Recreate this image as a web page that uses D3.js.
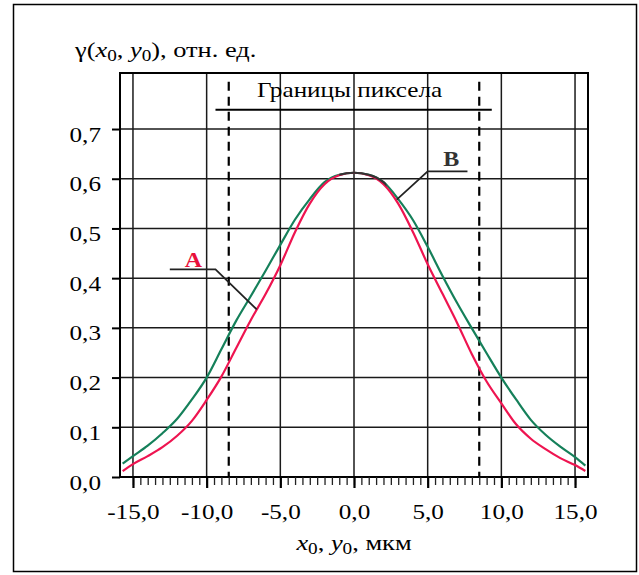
<!DOCTYPE html>
<html>
  <head>
    <meta charset="utf-8">
    <title>gamma profile</title>
    <style>
      body {
        margin: 0;
        background-color: white;
      }
      text {
        font-family: "Liberation Serif", "Times New Roman", serif;
        fill: black;
      }
    </style>
  </head>
  <body>
    <div id="chart"></div>

    <script src="https://d3js.org/d3.v7.min.js"></script>
    <script>
    // data
    var xs = [-15.7, -15, -14, -13, -12, -11, -10, -9, -8, -7, -6, -5, -4, -3, -2, -1, 0,
              1, 2, 3, 4, 5, 6, 7, 8, 9, 10, 11, 12, 13, 14, 15, 15.7];
    var seriesB = [0.027, 0.042, 0.063, 0.088, 0.117, 0.156, 0.200, 0.257, 0.314, 0.364, 0.415, 0.467, 0.518, 0.559, 0.593, 0.608, 0.612,
                   0.608, 0.593, 0.559, 0.517, 0.463, 0.405, 0.350, 0.299, 0.249, 0.200, 0.156, 0.115, 0.085, 0.061, 0.040, 0.023];
    var seriesA = [0.012, 0.026, 0.042, 0.060, 0.083, 0.113, 0.155, 0.202, 0.259, 0.316, 0.368, 0.426, 0.493, 0.550, 0.589, 0.607, 0.612,
                   0.607, 0.589, 0.550, 0.493, 0.428, 0.369, 0.310, 0.247, 0.192, 0.148, 0.106, 0.077, 0.056, 0.038, 0.024, 0.012];
    var commonRange = [-1.0, 2.2];      // where both curves coincide (drawn dark)
    var xTicks = [-15, -10, -5, 0, 5, 10, 15];
    var yTicks = [0, 0.1, 0.2, 0.3, 0.4, 0.5, 0.6, 0.7];
    var pixelBounds = [-8.5, 8.5];
    var pixelBar = {x0: -9.4, x1: 9.35, y: 0.739, top: 0.795, label: "Границы пиксела"};
    var labelA = {text: "A", pts: [[-12.5, 0.4175], [-9.4, 0.4175], [-6.6, 0.337]], lx: -10.9, ly: 0.423};
    var labelB = {text: "B", pts: [[7.7, 0.615], [5.0, 0.615], [2.9, 0.558]], lx: 6.6, ly: 0.626};

    var width = 639;
    var height = 575;
    var k = 1.2; // glyphs in the picture are a bit wider than Times

    var svg = d3.select("#chart").append("svg")
      .attr("width", width)
      .attr("height", height);

    svg.append("rect")
      .attr("x", 13.5).attr("y", 4.5)
      .attr("width", 623).attr("height", 567)
      .attr("fill", "white")
      .attr("stroke", "black")
      .attr("stroke-width", 1.5);

    var x = d3.scaleLinear().domain([-15.88, 15.88]).range([120, 588]);
    var y = d3.scaleLinear().domain([0, 0.8127]).range([477, 73]);

    function fmt(d) {
      return d.toFixed(1).replace(".", ",");
    }

    // grid
    svg.append("g").selectAll("line")
      .data(xTicks)
      .enter().append("line")
      .attr("x1", function(d) { return x(d); })
      .attr("x2", function(d) { return x(d); })
      .attr("y1", y(0)).attr("y2", y.range()[1])
      .attr("stroke", "#1a1a1a").attr("stroke-width", 1.5);

    svg.append("g").selectAll("line")
      .data(yTicks.slice(1))
      .enter().append("line")
      .attr("x1", x.range()[0]).attr("x2", x.range()[1])
      .attr("y1", function(d) { return y(d); })
      .attr("y2", function(d) { return y(d); })
      .attr("stroke", "#1a1a1a").attr("stroke-width", 1.5);

    // plot frame
    svg.append("rect")
      .attr("x", x.range()[0]).attr("y", y.range()[1])
      .attr("width", x.range()[1] - x.range()[0])
      .attr("height", y(0) - y.range()[1])
      .attr("fill", "none")
      .attr("stroke", "black")
      .attr("stroke-width", 2);

    // x axis: minor ticks every 0.5, labels at major
    var xAxisMinor = d3.axisBottom(x)
      .tickValues(d3.range(-15, 15.01, 0.5))
      .tickSize(8)
      .tickFormat("");
    var gxm = svg.append("g")
      .attr("transform", "translate(0," + y(0) + ")")
      .call(xAxisMinor);
    gxm.select(".domain").remove();
    gxm.selectAll("line").attr("stroke", "#222").attr("stroke-width", 1.3);

    var xAxis = d3.axisBottom(x)
      .tickValues(xTicks)
      .tickSize(11)
      .tickFormat(fmt);
    var gx = svg.append("g")
      .attr("transform", "translate(0," + y(0) + ")")
      .call(xAxis);
    gx.select(".domain").remove();
    gx.selectAll("line").attr("stroke", "black").attr("stroke-width", 2.2);
    gx.selectAll("text")
      .attr("y", 0).attr("dy", 0)
      .attr("transform", "translate(0,42) scale(" + k + ",1)")
      .style("font-size", "21px")
      .style("font-family", "Liberation Serif")
      .attr("fill", "black");

    var yAxis = d3.axisLeft(y)
      .tickValues(yTicks)
      .tickSize(8)
      .tickFormat(fmt);
    var gy = svg.append("g")
      .attr("transform", "translate(" + x.range()[0] + ",0)")
      .call(yAxis);
    gy.select(".domain").remove();
    gy.selectAll("line").attr("stroke", "black").attr("stroke-width", 2);
    gy.selectAll("text")
      .attr("x", 0).attr("dy", 0)
      .attr("transform", "translate(-19,12) scale(" + k + ",1)")
      .style("font-size", "21px")
      .style("font-family", "Liberation Serif")
      .attr("fill", "black");

    // pixel boundaries
    svg.append("g").selectAll("line")
      .data(pixelBounds)
      .enter().append("line")
      .attr("x1", function(d) { return x(d); })
      .attr("x2", function(d) { return x(d); })
      .attr("y1", y(pixelBar.top)).attr("y2", y(0))
      .attr("stroke", "black").attr("stroke-width", 2.2)
      .attr("stroke-dasharray", "9,6");

    svg.append("line")
      .attr("x1", x(pixelBar.x0)).attr("x2", x(pixelBar.x1))
      .attr("y1", y(pixelBar.y)).attr("y2", y(pixelBar.y))
      .attr("stroke", "black").attr("stroke-width", 2);

    svg.append("text")
      .attr("transform", "translate(" + x(-0.3) + "," + (y(pixelBar.y) - 13) + ") scale(" + k + ",1)")
      .attr("text-anchor", "middle")
      .style("font-size", "21px")
      .text(pixelBar.label);

    // curves
    var ptsA = xs.map(function(d, i) { return [d, seriesA[i]]; });
    var ptsB = xs.map(function(d, i) { return [d, seriesB[i]]; });
    var line = d3.line()
      .x(function(d) { return x(d[0]); })
      .y(function(d) { return y(d[1]); })
      .curve(d3.curveMonotoneX);

    svg.append("path")
      .datum(ptsB)
      .attr("d", line)
      .attr("fill", "none")
      .attr("stroke", "#15805a")
      .attr("stroke-width", 2.2);

    svg.append("path")
      .datum(ptsA)
      .attr("d", line)
      .attr("fill", "none")
      .attr("stroke", "#ee1450")
      .attr("stroke-width", 2.2);

    svg.append("clipPath").attr("id", "peakclip")
      .append("rect")
      .attr("x", x(commonRange[0])).attr("y", 0)
      .attr("width", x(commonRange[1]) - x(commonRange[0]))
      .attr("height", height);

    svg.append("path")
      .datum(ptsB)
      .attr("d", line)
      .attr("fill", "none")
      .attr("stroke", "#333")
      .attr("stroke-width", 2.2)
      .attr("clip-path", "url(#peakclip)");

    // leaders
    [labelA, labelB].forEach(function(l) {
      svg.append("path")
        .datum(l.pts)
        .attr("d", d3.line().x(function(d) { return x(d[0]); }).y(function(d) { return y(d[1]); }))
        .attr("fill", "none")
        .attr("stroke", "#222")
        .attr("stroke-width", 1.8);
    });

    svg.append("text")
      .attr("transform", "translate(" + x(labelA.lx) + "," + y(labelA.ly) + ") scale(" + k + ",1)")
      .attr("text-anchor", "middle")
      .style("font-size", "20px")
      .style("font-weight", "bold")
      .style("fill", "#e8103a")
      .text(labelA.text);

    svg.append("text")
      .attr("transform", "translate(" + x(labelB.lx) + "," + y(labelB.ly) + ") scale(" + k + ",1)")
      .attr("text-anchor", "middle")
      .style("font-size", "20px")
      .style("font-weight", "bold")
      .style("fill", "#333")
      .text(labelB.text);

    // axis titles
    var yt = svg.append("text")
      .attr("transform", "translate(75,57) scale(" + k + ",1)")
      .style("font-size", "22px");
    yt.append("tspan").text("γ(");
    yt.append("tspan").style("font-style", "italic").text("x");
    yt.append("tspan").attr("dy", 4).style("font-size", "16px").text("0");
    yt.append("tspan").attr("dy", -4).text(", ");
    yt.append("tspan").style("font-style", "italic").text("y");
    yt.append("tspan").attr("dy", 4).style("font-size", "16px").text("0");
    yt.append("tspan").attr("dy", -4).text("), отн. ед.");

    var xt = svg.append("text")
      .attr("transform", "translate(" + x(0) + ",550) scale(" + k + ",1)")
      .attr("text-anchor", "middle")
      .style("font-size", "22px");
    xt.append("tspan").style("font-style", "italic").text("x");
    xt.append("tspan").attr("dy", 4).style("font-size", "16px").text("0");
    xt.append("tspan").attr("dy", -4).text(", ");
    xt.append("tspan").style("font-style", "italic").text("y");
    xt.append("tspan").attr("dy", 4).style("font-size", "16px").text("0");
    xt.append("tspan").attr("dy", -4).text(", мкм");
    </script>
  </body>
</html>
